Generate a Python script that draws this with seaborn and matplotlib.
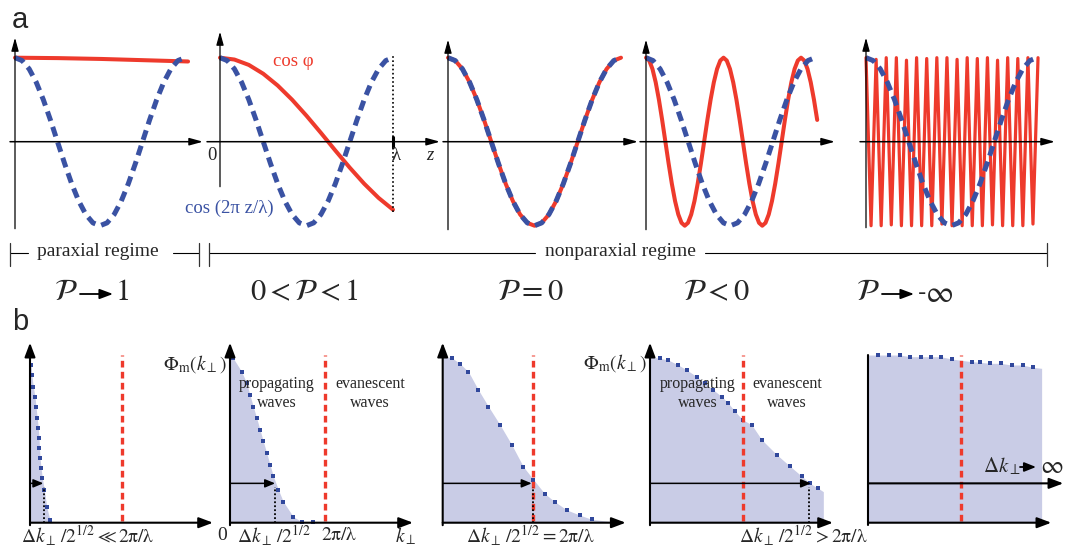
import numpy as np
import matplotlib
matplotlib.use('Agg')
import matplotlib.pyplot as plt
import seaborn as sns

# ---------------- data ----------------
# (a) reference wave cos(2 pi z / lambda) over one period, every lambda/24
ref_wave = [1.0, 0.966, 0.866, 0.707, 0.5, 0.259, 0.0, -0.259, -0.5, -0.707, -0.866, -0.966, -1.0,
            -0.966, -0.866, -0.707, -0.5, -0.259, 0.0, 0.259, 0.5, 0.707, 0.866, 0.966, 1.0]

# (a) cos(phi) in each regime
cosphi_paraxial = [1.0, 0.995, 0.985, 0.97, 0.955]
cosphi_partial = [1.0, 0.978, 0.914, 0.809, 0.669, 0.5, 0.309, 0.105, -0.105, -0.309, -0.5,
                  -0.669, -0.809]
cosphi_zero = ref_wave
cosphi_negative = [1.0, 0.966, 0.866, 0.707, 0.5, 0.259, 0.0, -0.259, -0.5, -0.707, -0.866, -0.966,
                   -1.0, -0.966, -0.866, -0.707, -0.5, -0.259, 0.0, 0.259, 0.5, 0.707, 0.866, 0.966,
                   1.0, 0.966, 0.866, 0.707, 0.5, 0.259, 0.0, -0.259, -0.5, -0.707, -0.866, -0.966,
                   -1.0, -0.966, -0.866, -0.707, -0.5, -0.259, 0.0, 0.259, 0.5, 0.707, 0.866, 0.966,
                   1.0, 0.966, 0.866, 0.707, 0.5, 0.259]
cosphi_minus_inf = [1, -1, 0.98, -1, 1, -0.99, 1, -1, 0.97, -1, 1, -1, 0.99, -1, 1, -0.98, 1, -1,
                    0.98, -1, 1, -1, 0.99, -1, 1, -0.99, 0.97, -1, 1, -1, 0.99, -1, 1, -0.98, 1]
cosphi_curves = [cosphi_paraxial, cosphi_partial, cosphi_zero, cosphi_negative, cosphi_minus_inf]
cosphi_zend = [1.018, 1.0, 1.0, 1.013, 1.006]   # last z/lambda of each red curve

regime_labels = [r'$\mathcal{P}$', r'$0 < \mathcal{P} < 1$', r'$\mathcal{P} = 0$',
                 r'$\mathcal{P} < 0$', r'$\mathcal{P}$']

# (b) spectra Phi_m(k_perp), k in units of 2 pi / lambda
spec_k = [
    [0.0, 0.012, 0.02, 0.036, 0.054, 0.065, 0.079, 0.09, 0.098, 0.103, 0.109, 0.12, 0.134, 0.155,
     0.182, 0.217, 0.24],
    [0.0, 0.036, 0.127, 0.182, 0.217, 0.253, 0.29, 0.326, 0.362, 0.399, 0.435, 0.471, 0.525, 0.579,
     0.688, 0.779, 0.905, 0.95],
    [0.0, 0.098, 0.188, 0.279, 0.388, 0.497, 0.623, 0.75, 0.877, 0.986, 1.109, 1.217, 1.348, 1.489,
     1.62, 1.837, 1.85],
    [0.0, 0.109, 0.199, 0.308, 0.399, 0.508, 0.598, 0.688, 0.779, 0.851, 0.924, 1.008, 1.105, 1.214,
     1.377, 1.522, 1.649, 1.739, 1.829, 1.884],
    [0.0, 0.109, 0.228, 0.345, 0.453, 0.568, 0.682, 0.79, 0.905, 1.123, 1.214, 1.323, 1.438, 1.558,
     1.677, 1.786, 1.884],
]
spec_phi = [
    [0.965, 0.95, 0.89, 0.82, 0.76, 0.70, 0.63, 0.57, 0.51, 0.45, 0.39, 0.33, 0.27, 0.20, 0.096,
     0.016, 0.0],
    [1.0, 0.99, 0.91, 0.84, 0.77, 0.70, 0.63, 0.56, 0.49, 0.42, 0.35, 0.28, 0.20, 0.127, 0.036,
     0.006, 0.006, 0.0],
    [1.0, 0.994, 0.958, 0.91, 0.80, 0.70, 0.59, 0.47, 0.337, 0.26, 0.175, 0.127, 0.077, 0.046, 0.02,
     0.006, 0.0],
    [1.0, 0.99, 0.98, 0.95, 0.92, 0.88, 0.84, 0.80, 0.76, 0.72, 0.67, 0.62, 0.59, 0.50, 0.41, 0.34,
     0.28, 0.237, 0.207, 0.187],
    [1.01, 1.01, 1.01, 1.01, 1.0, 1.0, 1.0, 1.0, 0.986, 0.97, 0.966, 0.96, 0.96, 0.95, 0.95, 0.936,
     0.93],
]
cutoff_k = [1.0, 1.03, 0.986, 1.014, 1.008]        # 2 pi / lambda
width_arrow_k = [0.145, 0.49, 0.967, 1.75, 2.12]   # Delta k / 2^(1/2) arrows
width_dot_k = [0.155, 0.49, 0.978, 1.728, None]
width_level = 0.237

# ---------------- style ----------------
sns.set_style('white')
plt.rcParams['font.family'] = ['Liberation Serif', 'DejaVu Serif']
plt.rcParams['mathtext.fontset'] = 'stix'

RED = '#ee3a2c'
BLUE = '#3a52a3'
FILL = '#c9cce6'
DOT = '#31489c'
W, H = 1065, 549

fig = plt.figure(figsize=(W / 100, H / 100), dpi=100)
# overlay in pixel units for labels and brackets, drawn above the panels
lay = fig.add_axes([0, 0, 1, 1], zorder=10)
lay.set_xlim(0, W)
lay.set_ylim(H, 0)
lay.axis('off')


def panel_axes(x0, y0, sx, sy, l, r, u, d):
    ax = fig.add_axes([(x0 - l) / W, 1 - (y0 + d) / H, (l + r) / W, (u + d) / H])
    ax.set_xlim(-l / sx, r / sx)
    ax.set_ylim(-d / sy, u / sy)
    ax.axis('off')
    return ax


def arrow(ax, p1, p2, lw=1.0, hl=0.8, hw=0.22, z=5):
    ax.annotate('', xy=p2, xytext=p1, annotation_clip=False, zorder=z,
                arrowprops=dict(arrowstyle=f'-|>,head_length={hl},head_width={hw}', lw=lw,
                                color='k', shrinkA=0, shrinkB=0, mutation_scale=10))


# ---------------- row a ----------------
sy_a = 84
top_y0 = 141.7
top_x0 = [15, 220, 448, 646, 866]
top_sx = [170, 173, 173, 169, 171]
yaxis_px = [(-87, 104), (-45, 110), (-88, 102), (-88, 102), (-86, 104)]
xaxis_px = [(-5, 188), (-13, 220), (-5, 190), (-6, 189), (-6, 189)]

for i in range(5):
    sx = top_sx[i]
    ax = panel_axes(top_x0[i], top_y0, sx, sy_a, 20, 230, 115, 95)
    yb, yt = yaxis_px[i]
    xl, xr = xaxis_px[i]
    arrow(ax, (0, yb / sy_a), (0, yt / sy_a), lw=0.9)
    arrow(ax, (xl / sx, 0), (xr / sx, 0), lw=1.1)

    red = cosphi_curves[i]
    z_red = np.linspace(0, cosphi_zend[i], len(red))
    sns.lineplot(x=z_red, y=red, ax=ax, color=RED, linewidth=2.9 if i < 4 else 2.3,
                 estimator=None, sort=False, clip_on=False, zorder=2)
    z_ref = np.linspace(0, 1, len(ref_wave))
    sns.lineplot(x=z_ref, y=ref_wave, ax=ax, color=BLUE, linewidth=3.6,
                 linestyle=(0, (2.0, 1.25)), dash_capstyle='butt',
                 estimator=None, sort=False, clip_on=False, zorder=3)
    if i == 1:
        ax.plot([1, 1], [-0.84, 1.05], color='k', ls=(0, (1, 1.5)), lw=1.2, clip_on=False)
        ax.plot([1, 1], [-0.06, 0.06], color='k', lw=2.2, clip_on=False)

lay.text(293, 62, 'cos φ', color=RED, fontsize=13.5, ha='center', va='center')
lay.text(229, 208, 'cos (2π z/λ)', color=BLUE, fontsize=13.5, ha='center', va='center')
lay.text(212, 155, '0', fontsize=13.5, ha='center', va='center')
lay.text(396, 156, 'λ', fontsize=13.5, ha='center', va='center')
lay.text(430, 155, 'z', fontsize=13.5, style='italic', ha='center', va='center')

# regime brackets
lay.plot([10, 28], [253, 253], color='k', lw=0.8)
lay.plot([173, 199], [253, 253], color='k', lw=0.8)
lay.plot([209, 535], [253, 253], color='k', lw=0.8)
lay.plot([705, 1047], [253, 253], color='k', lw=0.8)
for xt in [10, 199, 209, 1047]:
    lay.plot([xt, xt], [243, 266], color='#333333', lw=0.9)
lay.text(98, 251, 'paraxial regime', fontsize=14, ha='center', va='center')
lay.text(620, 251, 'nonparaxial regime', fontsize=14, ha='center', va='center')

# regime parameter labels
lab_x = [66, 305, 530, 716, 868]
for i in range(5):
    lay.text(lab_x[i], 293, regime_labels[i], fontsize=22, ha='center', va='center')
arrow(lay, (80, 294), (113, 294), lw=1.3, hl=0.8, hw=0.3)
lay.text(123, 293, '1', fontsize=22, family='STIXGeneral', ha='center', va='center')
arrow(lay, (882, 294), (914, 294), lw=1.3, hl=0.8, hw=0.3)
lay.text(922, 293, '-', fontsize=18, family='Liberation Sans', ha='center', va='center')
lay.text(939, 294, r'$\infty$', fontsize=22, ha='center', va='center')

lay.text(20, 20, 'a', fontsize=21, family='Liberation Sans', ha='center', va='center')
lay.text(20, 322, 'b', fontsize=21, family='Liberation Sans', ha='center', va='center')

# ---------------- row b ----------------
sx_b, sy_b = 92, 166
bot_y0 = 522.7
bot_x0 = [30, 230, 442.7, 650, 868.3]

for i in range(5):
    ax = panel_axes(bot_x0[i], bot_y0, sx_b, sy_b, 20, 205, 190, 10)
    k, phi = spec_k[i], spec_phi[i]
    ax.fill_between(k, phi, 0, color=FILL, lw=0, zorder=1)
    sns.scatterplot(x=k[1:-1], y=phi[1:-1], ax=ax, color=DOT, s=7, marker='s', linewidth=0,
                    zorder=2, clip_on=False)
    ax.plot([cutoff_k[i], cutoff_k[i]], [0.01, 1.01], color=RED, lw=2.4,
            ls=(0, (2.0, 1.3)), dash_capstyle='butt', zorder=3)
    if i < 4:
        arrow(ax, (0, width_level), (width_arrow_k[i], width_level), lw=1.1, hl=0.6, hw=0.25)
        ax.plot([width_dot_k[i]] * 2, [0, width_level - 0.02], color='k', lw=1.3,
                ls=(0, (1, 1.2)), zorder=4)
        arrow(ax, (0, -0.015), (0, 180 / sy_b), lw=1.5, hl=0.85, hw=0.32, z=6)
    else:
        arrow(ax, (0, width_level), (width_arrow_k[i], width_level), lw=1.5, hl=0.85, hw=0.32)
        ax.plot([0, 0], [-0.015, 1.01], color='k', lw=1.5, zorder=6)
    arrow(ax, (0, 0), (183 / sx_b, 0), lw=1.5, hl=0.85, hw=0.32, z=6)

yb_lab = 536
lay.text(88, yb_lab, r'$\Delta k_\perp\,/2^{1/2} \ll 2\mathrm{\pi}/\mathrm{\lambda}$',
         fontsize=14, ha='center', va='center')
lay.text(530, yb_lab, r'$\Delta k_\perp\,/2^{1/2} = 2\mathrm{\pi}/\mathrm{\lambda}$',
         fontsize=14, ha='center', va='center')
lay.text(803, yb_lab, r'$\Delta k_\perp\,/2^{1/2} > 2\mathrm{\pi}/\mathrm{\lambda}$',
         fontsize=14, ha='center', va='center')
lay.text(222, yb_lab, '0', fontsize=14, ha='center', va='center')
lay.text(274, yb_lab, r'$\Delta k_\perp\,/2^{1/2}$', fontsize=14, ha='center', va='center')
lay.text(339, yb_lab, r'$2\mathrm{\pi}/\mathrm{\lambda}$', fontsize=14, ha='center', va='center')
lay.text(406, yb_lab, r'$k_\perp$', fontsize=14, ha='center', va='center')

for xr, yc in [(227, 364), (647, 363)]:
    lay.text(xr, yc, r'$\Phi_{\rm m}(k_\perp)$', fontsize=14, ha='right', va='center')
for xc in [277, 698]:
    lay.text(xc, 384, 'propagating', fontsize=11.5, ha='center', va='center')
    lay.text(xc, 403, 'waves', fontsize=11.5, ha='center', va='center')
for xc in [370, 787]:
    lay.text(xc, 384, 'evanescent', fontsize=11.5, ha='center', va='center')
    lay.text(xc, 403, 'waves', fontsize=11.5, ha='center', va='center')

lay.text(1002, 466, r'$\Delta k_\perp$', fontsize=15, ha='center', va='center')
arrow(lay, (1020, 467), (1036, 467), lw=1.3, hl=0.7, hw=0.28)
lay.text(1052, 467, r'$\infty$', fontsize=18, ha='center', va='center')

fig.savefig('out.png', dpi=100)
